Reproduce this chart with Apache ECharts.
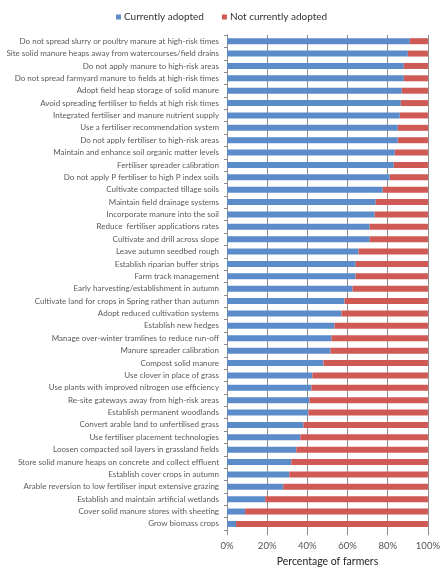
<!DOCTYPE html>
<html>
<head>
<meta charset="utf-8">
<script src="https://cdn.jsdelivr.net/npm/echarts@6/dist/echarts.min.js"></script>
<style>
  html, body { margin: 0; padding: 0; background: #fff; }
  #chart { width: 443px; height: 572px; }
</style>
</head>
<body>
<div id="chart"></div>
<script>
// Uptake of farm mitigation measures (share of farmers)
const measures = [
  "Do not spread slurry or poultry manure at high-risk times",
  "Site solid manure heaps away from watercourses/field drains",
  "Do not apply manure to high-risk areas",
  "Do not spread farmyard manure to fields at high-risk times",
  "Adopt field heap storage of solid manure",
  "Avoid spreading fertiliser to fields at high risk times",
  "Integrated fertiliser and manure nutrient supply",
  "Use a fertiliser recommendation system",
  "Do not apply fertiliser to high-risk areas",
  "Maintain and enhance soil organic matter levels",
  "Fertiliser spreader calibration",
  "Do not apply P fertiliser to high P index soils",
  "Cultivate compacted tillage soils",
  "Maintain field drainage systems",
  "Incorporate manure into the soil",
  "Reduce  fertiliser applications rates",
  "Cultivate and drill across slope",
  "Leave autumn seedbed rough",
  "Establish riparian buffer strips",
  "Farm track management",
  "Early harvesting/establishment in autumn",
  "Cultivate land for crops in Spring rather than autumn",
  "Adopt reduced cultivation systems",
  "Establish new hedges",
  "Manage over-winter tramlines to reduce run-off",
  "Manure spreader calibration",
  "Compost solid manure",
  "Use clover in place of grass",
  "Use plants with improved nitrogen use efficiency",
  "Re-site gateways away from high-risk areas",
  "Establish permanent woodlands",
  "Convert arable land to unfertilised grass",
  "Use fertiliser placement technologies",
  "Loosen compacted soil layers in grassland fields",
  "Store solid manure heaps on concrete and collect effluent",
  "Establish cover crops in autumn",
  "Arable reversion to low fertiliser input extensive grazing",
  "Establish and maintain artificial wetlands",
  "Cover solid manure stores with sheeting",
  "Grow biomass crops"
];

const currentlyAdopted = [
  91, 90, 88, 88, 87, 86.5, 86, 85, 85, 83.5,
  83, 81, 77.5, 74, 73.5, 71, 71, 65.5, 64, 64,
  62.5, 58.5, 57, 53.5, 52, 51.5, 48, 42.5, 42, 41,
  40.5, 38, 36.5, 34.5, 32, 31, 28, 19, 9, 4.5
];

const notCurrentlyAdopted = [
  9, 10, 12, 12, 13, 13.5, 14, 15, 15, 16.5,
  17, 19, 22.5, 26, 26.5, 29, 29, 34.5, 36, 36,
  37.5, 41.5, 43, 46.5, 48, 48.5, 52, 57.5, 58, 59,
  59.5, 62, 63.5, 65.5, 68, 69, 72, 81, 91, 95.5
];

const percentTicks = [0, 20, 40, 60, 80, 100];

const BLUE = '#5b8cc9';
const RED = '#cf5a55';
const FONT = 'Lato, "Open Sans", sans-serif';

const chart = echarts.init(document.getElementById('chart'), null, { renderer: 'canvas' });

chart.setOption({
  animation: false,
  textStyle: { fontFamily: FONT },
  legend: {
    top: 7,
    left: 111,
    itemWidth: 5,
    itemHeight: 5,
    itemGap: 18,
    icon: 'rect',
    textStyle: { fontSize: 10, color: '#333', fontFamily: FONT, padding: [0, 0, 0, -2] },
    data: ['Currently adopted', 'Not currently adopted']
  },
  grid: { left: 227, right: 12, top: 35, bottom: 35, containLabel: false },
  xAxis: {
    type: 'value',
    min: percentTicks[0],
    max: percentTicks[percentTicks.length - 1],
    interval: percentTicks[1] - percentTicks[0],
    axisLine: { show: false },
    axisTick: { show: true, length: 5, lineStyle: { color: '#8c8c8c' } },
    splitLine: { show: true, lineStyle: { color: '#8c8c8c', width: 1 } },
    axisLabel: { formatter: '{value}%', fontSize: 9.5, color: '#555', margin: 11, fontFamily: FONT },
    name: 'Percentage of farmers',
    nameLocation: 'middle',
    nameGap: 24,
    nameTextStyle: { fontSize: 10.5, color: '#222', fontFamily: FONT }
  },
  yAxis: {
    type: 'category',
    inverse: true,
    data: measures,
    axisLine: { show: true, lineStyle: { color: '#8c8c8c' } },
    axisTick: { show: true, length: 3, lineStyle: { color: '#8c8c8c' } },
    axisLabel: { fontSize: 8, color: '#5a5a5a', margin: 8, fontFamily: FONT },
    splitLine: { show: false }
  },
  series: [
    {
      name: 'Currently adopted',
      type: 'bar',
      stack: 'share',
      barWidth: 6,
      itemStyle: { color: BLUE },
      data: currentlyAdopted
    },
    {
      name: 'Not currently adopted',
      type: 'bar',
      stack: 'share',
      barWidth: 6,
      itemStyle: { color: RED },
      data: notCurrentlyAdopted
    }
  ]
});
</script>
</body>
</html>
